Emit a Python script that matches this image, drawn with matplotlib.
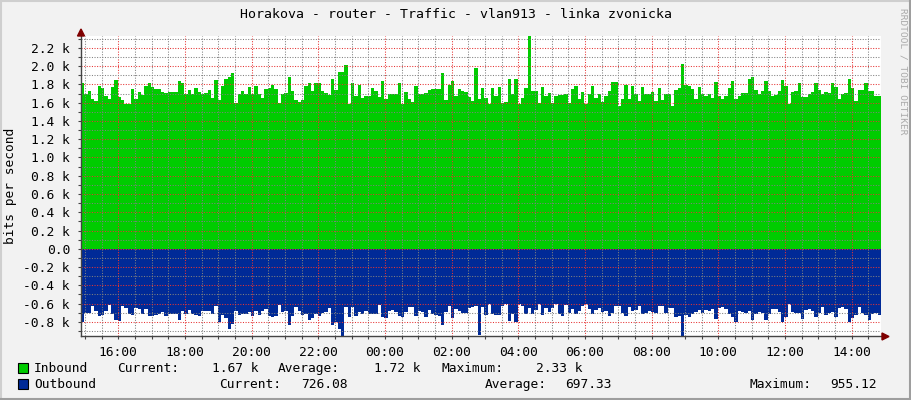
import numpy as np
import matplotlib.pyplot as plt
from matplotlib.lines import Line2D
from matplotlib.patches import Rectangle, Polygon
from matplotlib.ticker import MultipleLocator, FuncFormatter

# traffic samples in kbit/s, one value every 6 minutes
inbound_k = [
    1.82, 1.70, 1.73, 1.64, 1.62, 1.78, 1.76, 1.67, 1.64, 1.77,
    1.85, 1.66, 1.63, 1.59, 1.59, 1.75, 1.64, 1.72, 1.68, 1.78,
    1.82, 1.77, 1.75, 1.75, 1.72, 1.71, 1.72, 1.72, 1.72, 1.84,
    1.81, 1.70, 1.74, 1.70, 1.76, 1.72, 1.69, 1.71, 1.74, 1.65,
    1.85, 1.63, 1.78, 1.86, 1.88, 1.92, 1.60, 1.69, 1.73, 1.70,
    1.77, 1.70, 1.78, 1.70, 1.65, 1.75, 1.76, 1.79, 1.75, 1.60,
    1.70, 1.71, 1.88, 1.73, 1.63, 1.61, 1.63, 1.78, 1.81, 1.73,
    1.81, 1.81, 1.73, 1.71, 1.68, 1.86, 1.74, 1.94, 1.94, 2.01,
    1.59, 1.81, 1.67, 1.79, 1.65, 1.67, 1.67, 1.76, 1.73, 1.66,
    1.84, 1.64, 1.70, 1.70, 1.69, 1.81, 1.58, 1.72, 1.64, 1.61,
    1.78, 1.69, 1.70, 1.71, 1.74, 1.75, 1.75, 1.75, 1.92, 1.63,
    1.79, 1.84, 1.67, 1.75, 1.73, 1.72, 1.66, 1.62, 1.98, 1.64,
    1.76, 1.65, 1.58, 1.76, 1.67, 1.77, 1.60, 1.61, 1.86, 1.70,
    1.86, 1.58, 1.65, 1.76, 2.33, 1.73, 1.73, 1.60, 1.77, 1.67,
    1.71, 1.60, 1.67, 1.68, 1.68, 1.70, 1.60, 1.75, 1.78, 1.64,
    1.72, 1.59, 1.70, 1.78, 1.65, 1.69, 1.61, 1.67, 1.73, 1.83,
    1.83, 1.56, 1.64, 1.79, 1.64, 1.78, 1.69, 1.62, 1.77, 1.69,
    1.70, 1.72, 1.62, 1.76, 1.63, 1.70, 1.69, 1.56, 1.74, 1.76,
    2.02, 1.79, 1.78, 1.75, 1.64, 1.77, 1.69, 1.67, 1.70, 1.65,
    1.83, 1.67, 1.64, 1.67, 1.76, 1.84, 1.64, 1.67, 1.71, 1.71,
    1.86, 1.88, 1.74, 1.70, 1.73, 1.84, 1.73, 1.67, 1.68, 1.73,
    1.85, 1.78, 1.59, 1.72, 1.73, 1.81, 1.66, 1.66, 1.69, 1.72,
    1.81, 1.74, 1.70, 1.72, 1.71, 1.81, 1.77, 1.64, 1.70, 1.71,
    1.86, 1.76, 1.62, 1.74, 1.74, 1.81, 1.73, 1.73, 1.67, 1.67,
]
outbound_k = [
    0.80, 0.70, 0.70, 0.63, 0.68, 0.74, 0.725, 0.68, 0.62, 0.71,
    0.78, 0.79, 0.63, 0.65, 0.71, 0.725, 0.65, 0.66, 0.71, 0.66,
    0.74, 0.74, 0.73, 0.71, 0.69, 0.74, 0.71, 0.71, 0.71, 0.78,
    0.68, 0.71, 0.67, 0.71, 0.73, 0.74, 0.68, 0.68, 0.68, 0.71,
    0.63, 0.80, 0.725, 0.76, 0.88, 0.82, 0.68, 0.725, 0.71, 0.71,
    0.69, 0.74, 0.685, 0.725, 0.68, 0.66, 0.74, 0.75, 0.74, 0.62,
    0.69, 0.68, 0.83, 0.74, 0.64, 0.68, 0.725, 0.71, 0.78, 0.76,
    0.71, 0.74, 0.70, 0.69, 0.65, 0.83, 0.80, 0.88, 0.955, 0.64,
    0.75, 0.64, 0.74, 0.69, 0.71, 0.68, 0.71, 0.71, 0.71, 0.62,
    0.75, 0.76, 0.68, 0.67, 0.69, 0.74, 0.75, 0.69, 0.64, 0.64,
    0.74, 0.68, 0.69, 0.75, 0.67, 0.71, 0.725, 0.74, 0.84, 0.69,
    0.63, 0.76, 0.66, 0.68, 0.70, 0.70, 0.65, 0.64, 0.63, 0.94,
    0.64, 0.725, 0.60, 0.71, 0.725, 0.725, 0.63, 0.605, 0.79, 0.71,
    0.80, 0.605, 0.63, 0.71, 0.65, 0.71, 0.67, 0.61, 0.725, 0.65,
    0.69, 0.65, 0.61, 0.71, 0.74, 0.62, 0.70, 0.66, 0.71, 0.68,
    0.63, 0.61, 0.66, 0.71, 0.67, 0.65, 0.69, 0.68, 0.74, 0.70,
    0.63, 0.626, 0.70, 0.74, 0.634, 0.68, 0.67, 0.626, 0.714, 0.70,
    0.678, 0.688, 0.707, 0.626, 0.626, 0.707, 0.652, 0.652, 0.743, 0.736,
    0.95, 0.725, 0.751, 0.714, 0.688, 0.67, 0.70, 0.67, 0.678, 0.663,
    0.773, 0.652, 0.641, 0.663, 0.714, 0.751, 0.798, 0.678, 0.688, 0.70,
    0.678, 0.78, 0.714, 0.692, 0.70, 0.78, 0.714, 0.663, 0.663, 0.688,
    0.798, 0.743, 0.605, 0.688, 0.70, 0.70, 0.773, 0.67, 0.663, 0.678,
    0.751, 0.70, 0.641, 0.725, 0.707, 0.688, 0.751, 0.652, 0.641, 0.663,
    0.798, 0.762, 0.725, 0.641, 0.707, 0.725, 0.78, 0.714, 0.707, 0.726,
]
start_hour = 14.882
step_hour = 0.1
hour_ticks = list(range(16, 39, 2))

title = 'Horakova - router - Traffic - vlan913 - linka zvonicka'
in_stats = ['1.67 k', '1.72 k', '2.33 k']
out_stats = ['726.08', '697.33', '955.12']

W, H = 911, 400
BACK = '#f2f2f2'
GREEN = '#00cc00'
BLUE = '#002a97'
MONO = 'DejaVu Sans Mono'
FS = 9.3

inbound = np.array(inbound_k) * 1000
outbound = -np.array(outbound_k) * 1000
edges = start_hour + np.arange(len(inbound) + 1) * step_hour

fig = plt.figure(figsize=(W / 100, H / 100), dpi=100, facecolor=BACK)
ax = fig.add_axes([81 / W, 64 / H, 800 / W, 300 / H])
ax.set_facecolor('white')

ax.fill_between(edges, np.append(inbound, inbound[-1]), step='post',
                color=GREEN, lw=0, zorder=1)
ax.fill_between(edges, np.append(outbound, outbound[-1]), step='post',
                color=BLUE, lw=0, zorder=1)

ax.set_xlim(start_hour, start_hour + 24)
ax.set_ylim(-955, 2330)

ax.xaxis.set_minor_locator(MultipleLocator(0.5))
ax.yaxis.set_major_locator(MultipleLocator(200))
ax.yaxis.set_minor_locator(MultipleLocator(100))
ax.set_xticks(hour_ticks)
ax.set_xticklabels(['%02d:00' % (h % 24) for h in hour_ticks])


def kfmt(v, pos):
    if abs(v) < 1e-6:
        return '0.0'
    return '%.1f k' % (v / 1000)


ax.yaxis.set_major_formatter(FuncFormatter(kfmt))

# rrdtool draws its grid over the graph, faintly
ax.set_axisbelow(False)
ax.grid(which='minor', color=(0.5, 0.5, 0.5, 0.25), lw=0.75, ls=(0, (1, 1.5)))
ax.grid(which='major', color=(0.9, 0.2, 0.2, 0.28), lw=0.75, ls=(0, (1, 1.5)))

for s in ax.spines.values():
    s.set_visible(False)
ax.tick_params(which='both', length=2, width=0.8, color='#444444',
               labelsize=FS, labelcolor='black', pad=5)
ax.tick_params(axis='y', which='both', pad=6)
for lab in ax.get_xticklabels() + ax.get_yticklabels():
    lab.set_family(MONO)

# axis lines and arrows
ax.add_line(Line2D([0, 0], [0, 1], transform=ax.transAxes, color='#444444',
                   lw=1.0, clip_on=False, zorder=5))
ax.add_line(Line2D([0, 1.006], [0, 0], transform=ax.transAxes, color='#444444',
                   lw=1.0, clip_on=False, zorder=5))


def px(x, y):
    return (x / W, 1 - y / H)


fig.patches.append(Polygon([px(77.5, 36), px(84.5, 36), px(81, 29)], closed=True,
                           transform=fig.transFigure, color='#7f0000'))
fig.patches.append(Polygon([px(882, 333), px(882, 340), px(889, 336.5)], closed=True,
                           transform=fig.transFigure, color='#7f0000'))

# texts
fig.text(*px(455.5, 14), title, ha='center', va='center', family=MONO, fontsize=9.5)
fig.text(*px(11, 186), 'bits per second', ha='center', va='center', rotation=90,
         family=MONO, fontsize=FS)
fig.text(*px(903, 71), 'RRDTOOL / TOBI OETIKER', ha='center', va='center',
         rotation=270, family=MONO, fontsize=6.8, color='#aaaaaa')

# legend
rows = [
    (368.5, GREEN, 'Inbound', [(117, 'Current:', 'left'), (259, in_stats[0], 'right'),
                               (278, 'Average:', 'left'), (421, in_stats[1], 'right'),
                               (441, 'Maximum:', 'left'), (583, in_stats[2], 'right')]),
    (384.5, BLUE, 'Outbound', [(219, 'Current:', 'left'), (347.5, out_stats[0], 'right'),
                               (485, 'Average:', 'left'), (612, out_stats[1], 'right'),
                               (750, 'Maximum:', 'left'), (877, out_stats[2], 'right')]),
]
for y, col, name, parts in rows:
    fig.patches.append(Rectangle(px(17.5, y + 4.5), 10 / W, 10 / H, transform=fig.transFigure,
                                 facecolor=col, edgecolor='black', lw=0.8))
    fig.text(*px(34, y), name, ha='left', va='center', family=MONO, fontsize=FS)
    for x, s, ha in parts:
        fig.text(*px(x, y), s, ha=ha, va='center', family=MONO, fontsize=FS)

# shaded frame
fig.add_artist(Line2D([0, 1], [1 - 1 / H, 1 - 1 / H], transform=fig.transFigure, color='#cfcfcf', lw=1.5))
fig.add_artist(Line2D([1 / W, 1 / W], [0, 1], transform=fig.transFigure, color='#cfcfcf', lw=1.5))
fig.add_artist(Line2D([0, 1], [1 / H, 1 / H], transform=fig.transFigure, color='#9e9e9e', lw=1.5))
fig.add_artist(Line2D([1 - 1 / W, 1 - 1 / W], [0, 1], transform=fig.transFigure, color='#9e9e9e', lw=1.5))

fig.savefig('out.png', dpi=100, facecolor=BACK)
